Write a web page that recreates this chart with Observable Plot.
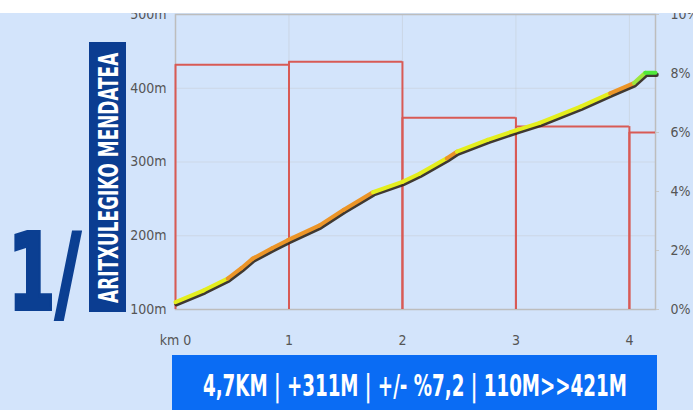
<!DOCTYPE html>
<html><head><meta charset="utf-8">
<script src="https://cdn.jsdelivr.net/npm/d3@7"></script>
<script src="https://cdn.jsdelivr.net/npm/@observablehq/plot@0.6"></script>
<style>
html,body{margin:0;padding:0;background:#d3e4fb;}
#wrap{position:relative;width:693px;height:410px;overflow:hidden;background:#d3e4fb;}
#topstrip{position:absolute;left:0;top:0;width:693px;height:13px;background:#fff;z-index:5;}
#chart{position:absolute;left:0;top:0;}
#num{position:absolute;left:8px;top:219px;font-family:"DejaVu Sans",sans-serif;font-weight:bold;font-size:106px;line-height:108px;color:#0b3f92;-webkit-text-stroke:4px #0b3f92;white-space:nowrap;transform-origin:0 0;}
#titlebox{position:absolute;left:89px;top:42px;width:37px;height:270px;background:#0b3d91;}
#titlerot{position:absolute;left:-116.5px;top:116.5px;width:270px;height:37px;transform:rotate(-90deg);display:flex;align-items:center;justify-content:center;}
#titletext{display:inline-block;font-family:"Liberation Sans Narrow","DejaVu Sans Condensed",sans-serif;font-weight:bold;font-size:27px;color:#fff;white-space:nowrap;line-height:37px;}
#banner{position:absolute;left:172px;top:355px;width:485px;height:55px;background:#0a6cf4;display:flex;align-items:center;justify-content:center;}
#bannertext{display:inline-block;font-family:"Liberation Sans Narrow","DejaVu Sans Condensed",sans-serif;font-weight:bold;font-size:31px;color:#fff;white-space:nowrap;line-height:40px;margin-top:4px;}
</style>
</head><body>
<div id="wrap">
  <div id="chart"></div>
  <div id="topstrip"></div>
  <div id="num"></div>
  <div id="titlebox"><div id="titlerot"><span id="titletext"></span></div></div>
  <div id="banner"><span id="bannertext"></span></div>
</div>
<script>
// ---- data ----
const stageNumber = "1/";
const climbName = "ARITXULEGIKO MENDATEA";
const statsLine = "4,7KM | +311M | +/- %7,2 | 110M>>421M";

const kmTicks = [0, 1, 2, 3, 4];
const elevTicks = [100, 200, 300, 400, 500];
const gradeTicks = [0, 2, 4, 6, 8, 10];

const profileKm   = [0, 0.25, 0.46, 0.58, 0.68, 0.85, 0.99, 1.27, 1.48, 1.74, 2.0, 2.15, 2.39, 2.48, 2.75, 3.0, 3.21, 3.57, 3.83, 4.04, 4.14, 4.23];
const profileElev = [110, 126, 142, 156, 169, 183, 194, 214, 235, 259, 273, 284, 305, 314, 330, 343, 353, 375, 393, 407, 421, 421];
// slope class of the segment that starts at each point
const slopeClass  = ["low","low","mid","mid","mid","mid","mid","mid","mid","low","low","low","mid","low","low","low","low","low","mid","high","top"];

const segStart = [0, 1, 2, 3, 4];
const segEnd   = [1, 2, 3, 4, 4.23];
const segGrade = [8.3, 8.4, 6.5, 6.2, 6.0];

// ---- chart ----
const gradeToElev = g => 100 + g * 40;
const red = "#d85a55";
const seg = d3.range(profileKm.length - 1);
const pts = d3.range(profileKm.length);
const bars = d3.range(segStart.length);
const closedBars = bars.filter(i => i < bars.length - 1);

const chart = Plot.plot({
  width: 693,
  height: 355,
  marginLeft: 175,
  marginRight: 38,
  marginTop: 14,
  marginBottom: 46,
  style: {background: "transparent", fontFamily: "'Liberation Sans Narrow','DejaVu Sans Condensed',sans-serif", fontSize: "14px"},
  x: {domain: [0, 4.23]},
  y: {domain: [100, 500]},
  color: {domain: ["low","mid","high","top"], range: ["#e4ee1e", "#ec9528", "#9ee63c", "#4fe83a"]},
  marks: [
    Plot.gridX([1,2,3,4], {stroke: "#c4c8cc", strokeOpacity: 0.45}),
    Plot.gridY([200,300,400], {stroke: "#c4c8cc", strokeOpacity: 0.45}),
    Plot.frame({stroke: "#bdbdbd", strokeWidth: 1.5}),
    Plot.axisY(elevTicks, {anchor: "left", tickSize: 0, tickPadding: 9, tickFormat: d => d + "m", fill: "#555", fontSize: 14}),
    Plot.axisY(gradeTicks.map(gradeToElev), {anchor: "right", tickSize: 3, tickPadding: 12, stroke: "#c8c8c8", tickFormat: d => ((d - 100) / 40) + "%", fill: "#555", fontSize: 14}),
    Plot.axisX(kmTicks, {tickSize: 0, tickPadding: 26, tickFormat: d => d === 0 ? "km 0" : String(d), fill: "#555", fontSize: 14}),
    // gradient bars (outline)
    Plot.ruleX(bars, {x: i => segStart[i], y1: 100, y2: i => gradeToElev(segGrade[i]), stroke: red, strokeWidth: 2}),
    Plot.ruleX(closedBars, {x: i => segEnd[i], y1: 100, y2: i => gradeToElev(segGrade[i]), stroke: red, strokeWidth: 2}),
    Plot.ruleY(bars, {y: i => gradeToElev(segGrade[i]), x1: i => segStart[i], x2: i => segEnd[i], stroke: red, strokeWidth: 2}),
    // elevation profile
    Plot.line(pts, {x: i => profileKm[i], y: i => profileElev[i], stroke: "#2f261c", strokeWidth: 4.5, strokeOpacity: 0.9, dx: 1, dy: 2, strokeLinecap: "round", strokeLinejoin: "round"}),
    Plot.link(seg, {x1: i => profileKm[i], y1: i => profileElev[i], x2: i => profileKm[i+1], y2: i => profileElev[i+1], stroke: i => slopeClass[i], strokeWidth: 4, strokeLinecap: "round"})
  ]
});
document.getElementById("chart").appendChild(chart);

// ---- side texts ----
function fit(el, w) {
  const cur = el.offsetWidth;
  if (cur > 0) el.style.transform = `scaleX(${w / cur})`;
}
const num = document.getElementById("num");
num.textContent = stageNumber;
const numW = num.offsetWidth;
num.style.transform = `scaleX(${72 / numW})`;

const tt = document.getElementById("titletext");
tt.textContent = climbName;
fit(tt, 250);

const bt = document.getElementById("bannertext");
bt.textContent = statsLine;
fit(bt, 424);
</script>
</body></html>
